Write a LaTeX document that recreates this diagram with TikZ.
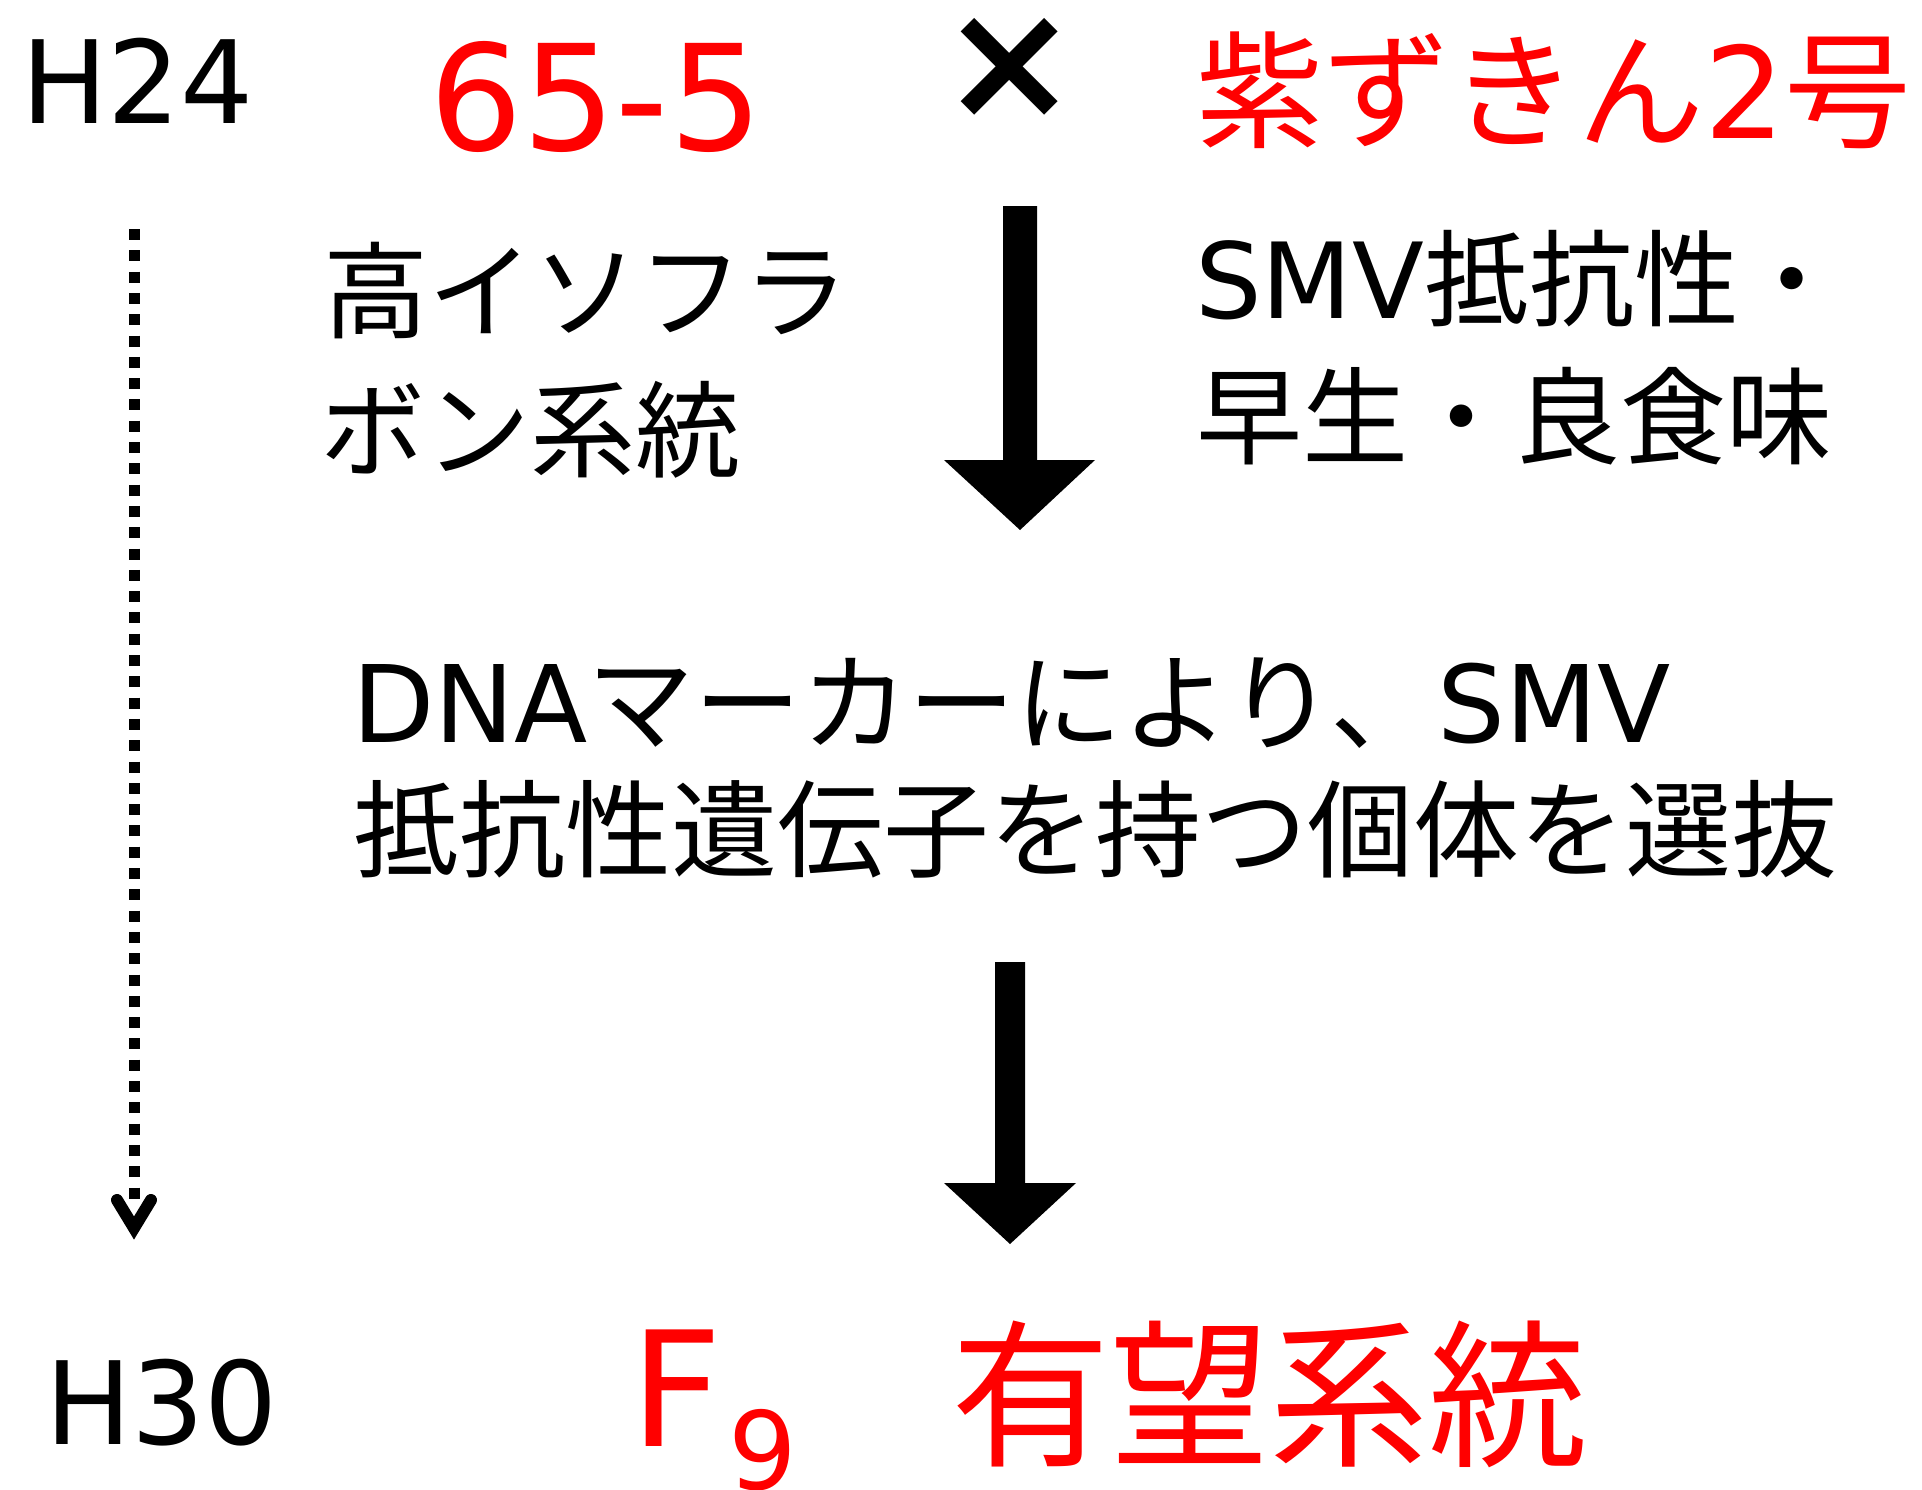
\documentclass[tikz,border=0pt]{standalone}
\usepackage{fontspec}
\setmainfont{DejaVu Sans}
\newfontfamily\cjk{Noto Sans CJK JP}
\newfontfamily\lat{DejaVu Sans}
\definecolor{fred}{RGB}{255,0,0}
\begin{document}
\begin{tikzpicture}[x=1pt,y=-1pt,
  txt/.style={inner sep=0pt, outer sep=0pt, anchor=base west},
  big/.style={fill=black, draw=none}]
\useasboundingbox (0,0) rectangle (1922,1489);
% top row
\node[txt, font=\fontsize{115}{130}\selectfont\lat] (h24) at (21,123) {H24};
\node[txt, font=\fontsize{147}{160}\selectfont\lat, text=fred] (p1) at (429,150) {65-5};
\node[inner sep=0pt, font=\fontsize{165}{200}\selectfont\lat\bfseries] (cross) at (1010,68) {×};
\node[txt, font=\fontsize{127}{140}\selectfont\cjk, text=fred] (p2) at (1196,138) {紫ずきん{\lat 2}号};
% side texts
\node[txt, font=\fontsize{105}{120}\selectfont\cjk] (l1a) at (323,330) {高イソフラ};
\node[txt, font=\fontsize{105}{120}\selectfont\cjk] (l1b) at (320,469) {ボン系統};
\node[txt, font=\fontsize{105}{120}\selectfont\cjk] (r1a) at (1195,318) {{\lat SMV}抵抗性・};
\node[txt, font=\fontsize{106}{120}\selectfont\cjk] (r1b) at (1196,456) {早生・良食味};
% middle
\node[txt, font=\fontsize{107}{120}\selectfont\cjk] (m1) at (352,742) {{\lat DNA}マーカーにより、{\lat SMV}};
\node[txt, font=\fontsize{106}{120}\selectfont\cjk] (m2) at (353,869) {抵抗性遺伝子を持つ個体を選抜};
% bottom row
\node[txt, font=\fontsize{115}{130}\selectfont\lat] (h30) at (45,1444) {H30};
\node[txt, font=\fontsize{160}{180}\selectfont\lat, text=fred] (f9) at (630,1446) {F\kern6pt\raisebox{-43pt}{\fontsize{108}{120}\selectfont 9}};
\node[txt, font=\fontsize{159}{180}\selectfont\cjk, text=fred] (res) at (951,1454) {有望系統};
% arrow 1
\coordinate (a1s) at (1020,206);
\coordinate (a1e) at (1020,530);
\fill[big] ([xshift=-17pt]a1s) -- ([xshift=17pt]a1s) -- (1037,460) -- (1095,460) -- (a1e) -- (944,460) -- (1003,460) -- cycle;
% arrow 2
\coordinate (a2s) at (1010,962);
\coordinate (a2e) at (1010,1244);
\fill[big] ([xshift=-15pt]a2s) -- ([xshift=15pt]a2s) -- (1025,1183) -- (1076,1183) -- (a2e) -- (944,1183) -- (995,1183) -- cycle;
% dotted time arrow
\coordinate (ts) at (134,229);
\coordinate (te) at (134,1228);
\draw[line width=11pt, dash pattern=on 11pt off 10.3pt] (ts) -- (134,1199);
\draw[line width=12pt, line join=miter, line cap=round] (117,1200) -- (te) -- (151,1200);
\end{tikzpicture}
\end{document}
